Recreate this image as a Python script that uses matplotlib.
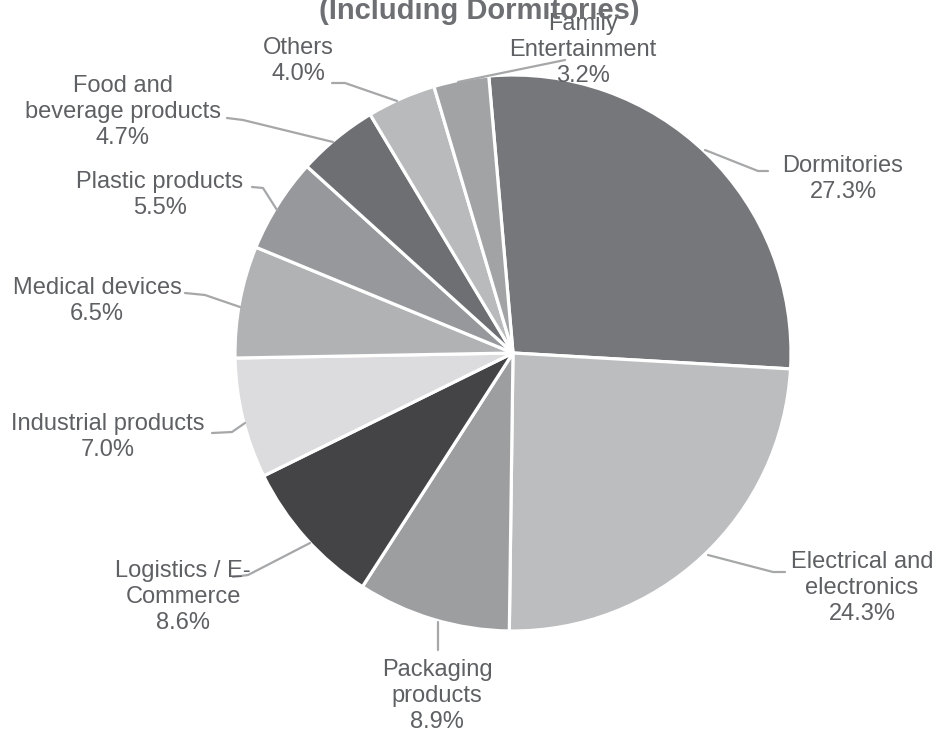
import matplotlib
matplotlib.use("Agg")
import matplotlib.pyplot as plt

# tenant trade sectors, clockwise from the top
sectors = ["Dormitories", "Electrical and\nelectronics", "Packaging\nproducts",
           "Logistics / E-\nCommerce", "Industrial products", "Medical devices",
           "Plastic products", "Food and\nbeverage products", "Others",
           "Family\nEntertainment"]
shares = [27.3, 24.3, 8.9, 8.6, 7.0, 6.5, 5.5, 4.7, 4.0, 3.2]
colors = ["#76777b", "#bcbdbf", "#9d9ea0", "#444446", "#dcdcde",
          "#b1b2b4", "#97989b", "#6e6f73", "#b9babc", "#a2a3a5"]

# label centre (px) and leader line path (px), one per sector
label_pos = [(843, 179), (862, 588), (437, 696), (183, 597), (108, 437),
             (97, 301), (160, 195), (123, 112), (298, 61), (583, 50)]
leaders = [
    [(705, 150), (758, 171), (768, 171)],
    [(708, 555), (773, 572), (785, 572)],
    [(438, 622), (438, 650)],
    [(310, 543), (248, 575), (233, 577)],
    [(245, 423), (232, 432), (212, 433)],
    [(240, 307), (205, 295), (185, 293)],
    [(277, 210), (263, 188), (252, 187)],
    [(333, 142), (243, 120), (227, 118)],
    [(397, 101), (345, 83), (332, 83)],
    [(458, 82), (565, 60)],
]

plt.rcParams['font.family'] = ['Liberation Sans', 'DejaVu Sans']

fig = plt.figure(figsize=(9.36, 7.36), dpi=100)
ax = fig.add_axes([0, 0, 1, 1])

# y axis is flipped below, so startangle/counterclock are mirrored
ax.pie(shares, colors=colors, startangle=-95, counterclock=True,
       center=(513, 353), radius=278,
       wedgeprops=dict(edgecolor="white", linewidth=2.3))

ax.set_xlim(0, 936)
ax.set_ylim(736, 0)
ax.set_aspect("equal")
ax.axis("off")

txt_color = "#5f6063"
for name, val, (x, y), path in zip(sectors, shares, label_pos, leaders):
    xs = [p[0] for p in path]
    ys = [p[1] for p in path]
    ax.plot(xs, ys, color="#a6a7a9", lw=1.6, solid_capstyle="round")
    ax.text(x, y, "{}\n{:.1f}%".format(name, val), ha="center", va="center",
            fontsize=17, color=txt_color, linespacing=1.25)

ax.text(479, 19, "(Including Dormitories)", ha="center", va="baseline",
        fontsize=21, fontweight="bold", color="#6e6f73")

fig.savefig("out.png", dpi=100)
